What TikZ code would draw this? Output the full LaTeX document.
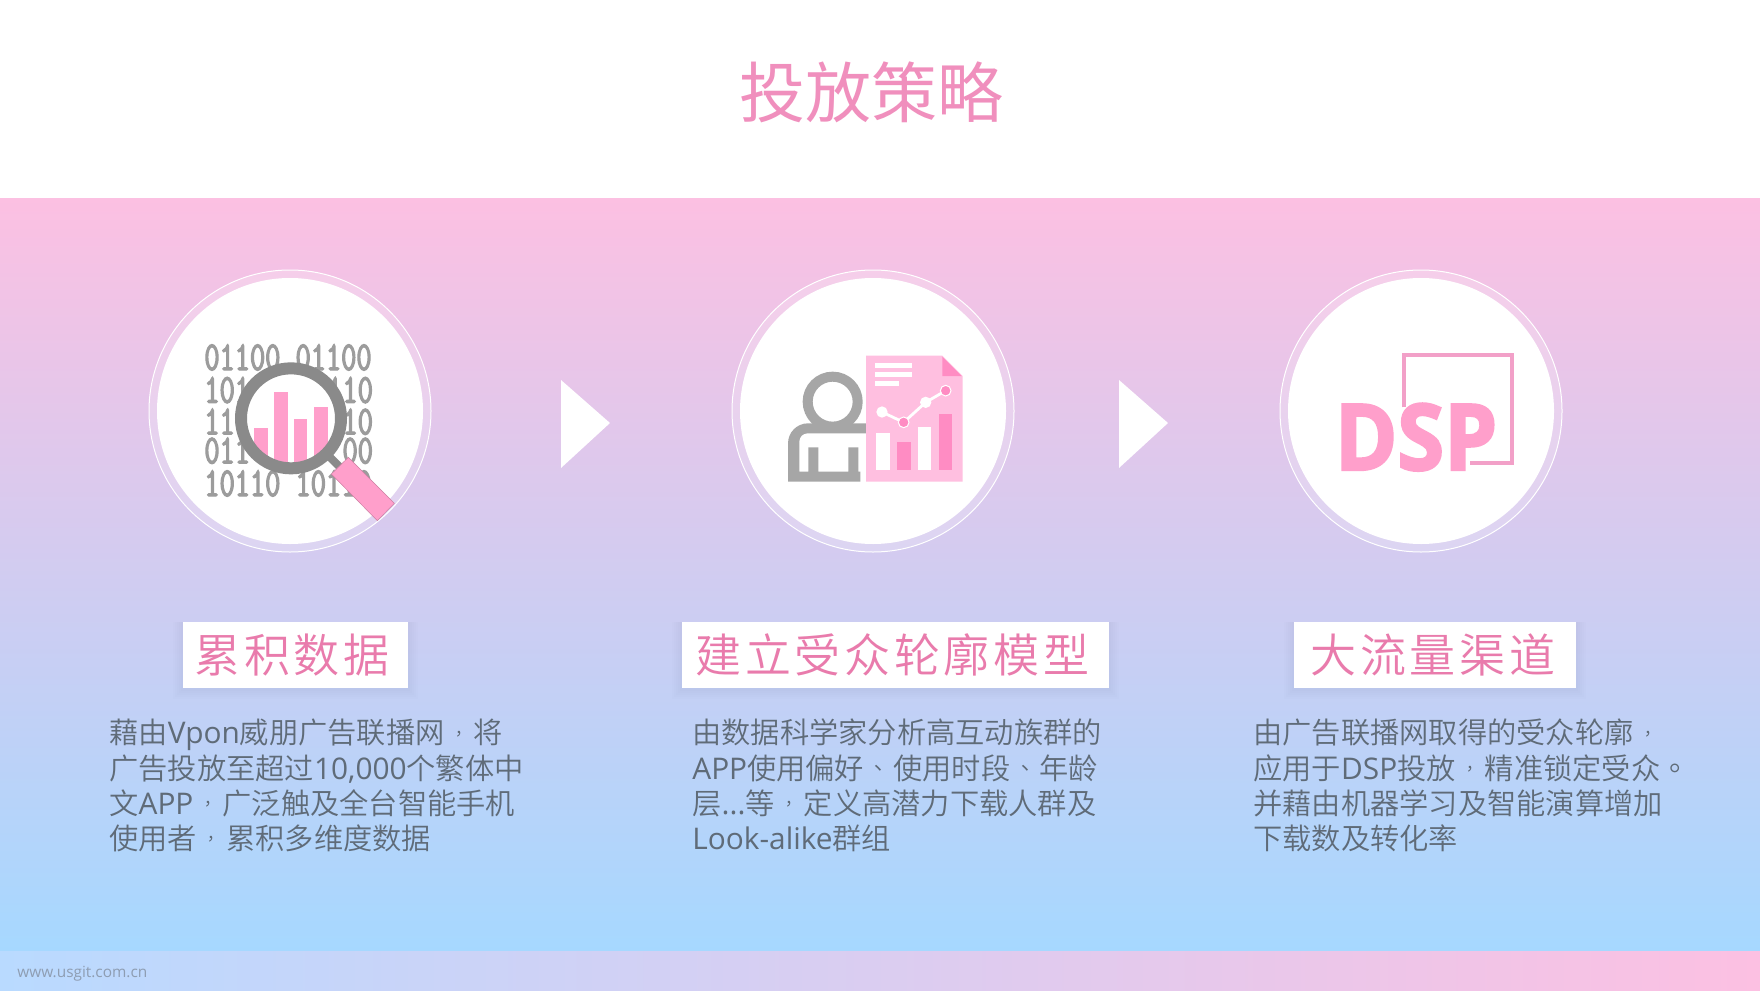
\documentclass[tikz,border=0pt]{standalone}
\usepackage{fontspec}
\newfontfamily\cjk{Noto Sans CJK SC DemiLight}
\newfontfamily\cjktitle{Noto Sans CJK SC}
\newfontfamily\cjktc{Noto Sans CJK TC DemiLight}
\newfontfamily\cjklab[LetterSpace=8]{Noto Sans CJK SC DemiLight}
\newfontfamily\latf[Scale=1.02]{Open Sans}
\newfontfamily\markf{Open Sans}
\newfontfamily\digitf[FakeBold=3,FakeStretch=.72]{Latin Modern Mono}
\newfontfamily\dspf[BoldFeatures={FakeBold=2.5,FakeStretch=.92}]{Open Sans}
\newcommand{\lat}[1]{{\latf #1}}
\newcommand{\pun}[1]{{\cjktc\makebox[1em][c]{\raisebox{.12em}{\scalebox{.6}{#1}}}}}
\newcommand{\dun}[1]{{\cjktc\makebox[1em][c]{\raisebox{.1em}{\scalebox{.75}{#1}}}}}
\newcommand{\softbox}[4]{%
  \foreach \d in {2,4,6,8,10}{\fill[black,opacity=.008] (#1-\d,#2) rectangle (#3+\d,#4+\d+1);}
  \fill[white] (#1,#2) rectangle (#3,#4);}
\definecolor{bgtop}{HTML}{FCC0E2}
\definecolor{bgmid}{HTML}{D5CCEC}
\definecolor{bgbot}{HTML}{A6D8FF}
\definecolor{stripleft}{HTML}{B9DAFF}
\definecolor{stripmid}{HTML}{C8D5F9}
\definecolor{titlepink}{HTML}{F08FBD}
\definecolor{labelpink}{HTML}{E97BAC}
\definecolor{bodygrey}{HTML}{5F6B78}
\definecolor{iconpink}{HTML}{FF9FCB}
\definecolor{docpink}{HTML}{FFBFE0}
\definecolor{deeppink}{HTML}{FF8CC3}
\definecolor{digitgrey}{HTML}{9C9C9C}
\definecolor{lensgrey}{HTML}{8A8A8A}
\definecolor{persongrey}{HTML}{A6A6A6}
\definecolor{framepink}{HTML}{F2A0C8}
\definecolor{markgrey}{HTML}{8E9DB2}
\tikzset{
  ring/.style={circle,inner sep=0pt,minimum size=141pt,draw=white,line width=.5pt,fill=white,fill opacity=.2},
  disc/.style={circle,inner sep=0pt,minimum size=133pt,fill=white},
  labeltext/.style={anchor=base west,inner sep=0pt,text=labelpink,font=\cjklab\fontsize{23pt}{25pt}\selectfont},
  bodyline/.style={anchor=base west,inner sep=0pt,text=bodygrey,font=\cjk\fontsize{14.62pt}{17pt}\selectfont},
  digitrow/.style={anchor=base west,inner sep=0pt,text=digitgrey,font=\digitf\fontsize{20.5pt}{22pt}\selectfont},
  icon/.style={x=.16667pt,y=-.16667pt},
}
\begin{document}
\begin{tikzpicture}[x=.5pt,y=-.5pt]
\useasboundingbox (0,0) rectangle (1760,990);
\fill[white] (0,0) rectangle (1760,198);
\shade[top color=bgtop,middle color=bgmid,bottom color=bgbot] (0,198) rectangle (1760,951);
\shade[left color=stripleft,middle color=stripmid,right color=bgtop] (0,951) rectangle (1760,990);
\node[anchor=base,inner sep=0pt,text=titlepink,font=\cjktitle\fontsize{33pt}{36pt}\selectfont] (title) at (871,118) {投放策略};

% circles
\node[ring] (ringA) at (290,411) {};
\node[disc] (discA) at (290,411) {};
\node[ring] (ringB) at (873,411) {};
\node[disc] (discB) at (873,411) {};
\node[ring] (ringC) at (1421,411) {};
\node[disc] (discC) at (1421,411) {};

% arrows
\fill[white] (561,380) -- (610,423) -- (561,468) -- cycle;
\fill[white] (1119,380) -- (1168,423) -- (1119,468) -- cycle;

% icon A
\begin{scope}[shift={(65pt,-125pt)},icon]
  \node[digitrow] (r1) at (222,360) {01100 01100};
  \node[digitrow] (r2a) at (222,458) {101};
  \node[digitrow,anchor=base east] (r2b) at (730,458) {110};
  \node[digitrow] (r3a) at (222,553) {110};
  \node[digitrow,anchor=base east] (r3b) at (730,553) {10};
  \node[digitrow] (r4a) at (222,640) {011};
  \node[digitrow,anchor=base east] (r4b) at (730,640) {00};
  \node[digitrow] (r5) at (222,738) {10110 10110};
  \fill[white] (483,505) circle (150);
  \begin{scope}
    \clip (483,505) circle (135);
    \fill[iconpink] (373,533) rectangle (413,660);
    \fill[iconpink] (433,426) rectangle (473,660);
    \fill[iconpink] (492,508) rectangle (532,660);
    \fill[iconpink] (552,472) rectangle (594,660);
  \end{scope}
  \draw[lensgrey,line width=6pt] (483,505) circle (150);
  \draw[lensgrey,line width=4pt] (600,622) -- (640,662);
  \fill[iconpink,draw=iconpink!80!black,line width=.25pt] (655,622) -- (793,760) -- (742,812) -- (604,672) -- cycle;
\end{scope}

% icon B
\begin{scope}[shift={(360pt,-125pt)},icon]
  \draw[persongrey,line width=5pt] (338,455) circle (75);
  \fill[persongrey] (204,695) -- (204,580) arc[start angle=180,end angle=270,radius=60] -- (438,520) -- (438,550) -- (262,550) arc[start angle=270,end angle=180,radius=24] -- (238,665) -- (265,665) -- (265,592) -- (295,592) -- (295,665) -- (385,665) -- (385,592) -- (415,592) -- (415,665) -- (421,665) -- (421,695) -- cycle;
  \fill[docpink] (438,317) -- (667,317) -- (728,378) -- (728,695) -- (438,695) -- cycle;
  \fill[deeppink] (667,320) -- (725,378) -- (667,378) -- cycle;
  \fill[white] (465,340) rectangle (576,353);
  \fill[white] (465,366) rectangle (576,380);
  \fill[white] (465,393) rectangle (538,407);
  \fill[white] (469,549) rectangle (510,659);
  \fill[deeppink] (532,575) rectangle (572,659);
  \fill[white] (594,532) rectangle (634,659);
  \fill[deeppink] (656,492) rectangle (696,659);
  \draw[white,line width=1.4pt] (486,486) -- (551,517) -- (617,457) -- (677,422);
  \fill[white] (486,486) circle (17);
  \fill[white] (617,457) circle (17);
  \fill[deeppink,draw=white,line width=.5pt] (551,517) circle (16);
  \fill[deeppink,draw=white,line width=.5pt] (677,422) circle (16);
\end{scope}

% icon C
\begin{scope}[shift={(635pt,-125pt)},icon]
  \draw[framepink,line width=2pt] (401,472) -- (401,316) -- (726,316) -- (726,638) -- (600,638);
  \node[anchor=base,inner sep=0pt,text=iconpink,font=\dspf\bfseries\fontsize{46pt}{48pt}\selectfont] (dsp) at (438,660) {DSP};
\end{scope}

% label boxes
\softbox{183}{622}{408}{688}
\softbox{682}{622}{1109}{688}
\softbox{1294}{622}{1576}{688}
\node[labeltext] (labA) at (194,672) {累积数据};
\node[labeltext] (labB) at (695,672) {建立受众轮廓模型};
\node[labeltext] (labC) at (1310,672) {大流量渠道};

% body text
\node[bodyline] (a1) at (109,743.5) {藉由\lat{Vpon}威朋广告联播网\pun{，}将};
\node[bodyline] (a2) at (109,779) {广告投放至超过\lat{10,000}个繁体中};
\node[bodyline] (a3) at (109,814) {文\lat{APP}\pun{，}广泛触及全台智能手机};
\node[bodyline] (a4) at (109,849) {使用者\pun{，}累积多维度数据};
\node[bodyline] (b1) at (692,743.5) {由数据科学家分析高互动族群的};
\node[bodyline] (b2) at (692,779) {\lat{APP}使用偏好\dun{、}使用时段\dun{、}年龄};
\node[bodyline] (b3) at (692,814) {层\lat{...}等\pun{，}定义高潜力下载人群及};
\node[bodyline] (b4) at (692,849) {\lat{Look-alike}群组};
\node[bodyline] (c1) at (1253,743.5) {由广告联播网取得的受众轮廓\pun{，}};
\node[bodyline] (c2) at (1253,779) {应用于\lat{DSP}投放\pun{，}精准锁定受众{\cjktc 。}};
\node[bodyline] (c3) at (1253,814) {并藉由机器学习及智能演算增加};
\node[bodyline] (c4) at (1253,849) {下载数及转化率};

\node[anchor=base west,inner sep=0pt,text=markgrey,font=\markf\fontsize{7.7pt}{9pt}\selectfont] (mark) at (17,977) {www.usgit.com.cn};
\end{tikzpicture}
\end{document}
